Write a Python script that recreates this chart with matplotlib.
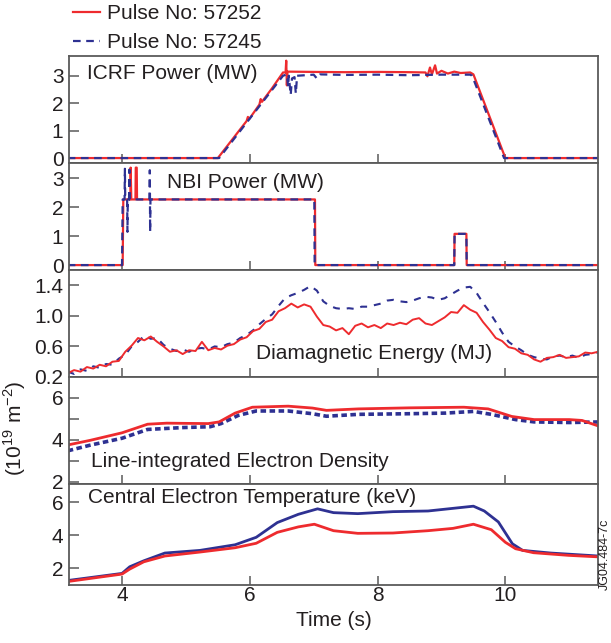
"""JET pulses 57252 / 57245: ICRF, NBI, W_dia, density and Te traces."""

import matplotlib
matplotlib.use("Agg")
import matplotlib.pyplot as plt
from matplotlib.ticker import FormatStrFormatter
import numpy as np

plt.rcParams["font.family"] = ["Liberation Sans", "DejaVu Sans"]
plt.rcParams["mathtext.fontset"] = "custom"
plt.rcParams["mathtext.rm"] = "Liberation Sans"
plt.rcParams["lines.scale_dashes"] = False

RED = "#ee2b2e"
BLUE = "#2e3192"
INK = "#231f20"
SPINE = "#5a5a5a"

# ICRF power (MW)
icrf_t_a = [3.15, 5.50, 5.80, 5.95, 5.97, 5.99, 6.15, 6.17, 6.19, 6.35, 6.52, 6.56, 6.57,
            6.58, 6.59, 7.00, 7.50, 8.00, 8.50, 8.75, 8.78, 8.82, 8.85, 8.90, 8.93, 9.00,
            9.10, 9.20, 9.30, 9.45, 9.50, 10.00, 11.50]
icrf_p_a = [0, 0, 0.90, 1.35, 1.50, 1.42, 1.95, 2.15, 2.05, 2.55, 3.12, 3.12, 3.55,
            2.65, 3.15, 3.14, 3.13, 3.14, 3.13, 3.12, 2.98, 3.30, 3.05, 3.38, 3.08, 3.18,
            3.08, 3.15, 3.10, 3.12, 3.05, 0, 0]
icrf_t_b = [3.15, 5.52, 6.52, 6.58, 6.60, 6.61, 6.64, 6.66, 6.70, 6.72, 6.74, 7.00, 7.05,
            7.10, 7.50, 8.00, 8.50, 9.00, 9.45, 9.48, 9.98, 11.50]
icrf_p_b = [0, 0, 3.00, 3.05, 2.60, 3.00, 2.30, 2.90, 2.95, 2.35, 3.00, 3.04, 2.90,
            3.05, 3.03, 3.04, 3.02, 3.04, 3.04, 3.00, 0, 0]

# NBI power (MW)
nbi_t_a = [3.15, 4.01, 4.02, 4.13, 4.135, 4.145, 4.21, 4.215, 4.23, 4.235, 7.02, 7.025,
           9.20, 9.205, 9.39, 9.395, 11.50]
nbi_p_a = [0, 0, 2.27, 2.27, 3.37, 2.27, 2.27, 3.37, 3.37, 2.27, 2.27, 0,
           0, 1.08, 1.08, 0, 0]
nbi_t_b = [3.15, 4.00, 4.01, 4.04, 4.045, 4.05, 4.08, 4.085, 4.09, 4.11, 4.115, 4.12,
           4.43, 4.435, 4.44, 4.445, 7.01, 7.015, 9.20, 9.205, 9.39, 9.395, 11.50]
nbi_p_b = [0, 0, 2.27, 2.27, 3.33, 2.27, 2.27, 1.15, 2.27, 2.27, 3.30, 2.27,
           2.27, 3.28, 1.15, 2.27, 2.27, 0, 0, 1.08, 1.08, 0, 0]

# Diamagnetic energy (MJ), sampled every 0.1 s from 3.15 s
wdia_start = 3.15
wdia_a = [0.25, 0.29, 0.27, 0.33, 0.31, 0.36, 0.34, 0.40, 0.41, 0.53,
          0.61, 0.71, 0.68, 0.73, 0.66, 0.60, 0.53, 0.55, 0.50, 0.55,
          0.54, 0.66, 0.55, 0.58, 0.56, 0.61, 0.63, 0.69, 0.72, 0.80,
          0.83, 0.92, 0.95, 1.06, 1.10, 1.16, 1.11, 1.15, 1.12, 0.99,
          0.88, 0.86, 0.81, 0.84, 0.76, 0.87, 0.90, 0.85, 0.88, 0.84,
          0.90, 0.88, 0.91, 0.89, 0.95, 0.97, 0.90, 0.88, 0.93, 0.98,
          1.05, 1.04, 1.14, 1.08, 1.04, 0.92, 0.82, 0.71, 0.67, 0.59,
          0.57, 0.51, 0.49, 0.43, 0.40, 0.45, 0.46, 0.49, 0.45, 0.46,
          0.47, 0.52, 0.51, 0.53]
wdia_b = [0.27, 0.24, 0.30, 0.28, 0.34, 0.32, 0.37, 0.36, 0.44, 0.49,
          0.60, 0.66, 0.74, 0.70, 0.71, 0.62, 0.57, 0.54, 0.56, 0.53,
          0.57, 0.58, 0.56, 0.60, 0.59, 0.63, 0.65, 0.71, 0.75, 0.81,
          0.89, 0.96, 1.02, 1.13, 1.23, 1.27, 1.30, 1.34, 1.39, 1.33,
          1.19, 1.13, 1.10, 1.09, 1.10, 1.09, 1.12, 1.12, 1.14, 1.16,
          1.20, 1.21, 1.19, 1.18, 1.20, 1.23, 1.25, 1.24, 1.21, 1.23,
          1.28, 1.33, 1.37, 1.38, 1.30, 1.17, 1.05, 0.92, 0.78, 0.66,
          0.60, 0.55, 0.49, 0.46, 0.44, 0.43, 0.47, 0.48, 0.46, 0.48,
          0.45, 0.49, 0.50, 0.52]

# Line-integrated density (1e19 m^-2)
ne_t_a = [3.15, 3.50, 4.00, 4.40, 4.70, 5.00, 5.35, 5.52, 5.77, 6.04, 6.60, 6.98, 7.20,
          7.70, 8.50, 9.35, 9.73, 10.10, 10.45, 11.00, 11.20, 11.50]
ne_a = [3.76, 3.98, 4.34, 4.75, 4.80, 4.79, 4.78, 4.86, 5.28, 5.56, 5.61, 5.52, 5.41,
        5.48, 5.53, 5.56, 5.48, 5.12, 4.97, 4.97, 4.93, 4.62]
ne_t_b = [3.15, 3.50, 4.00, 4.40, 4.95, 5.38, 5.55, 5.82, 6.10, 6.60, 6.98, 7.20, 7.70,
          8.50, 9.07, 9.50, 9.78, 10.16, 10.45, 11.00, 11.50]
ne_b = [3.48, 3.75, 4.08, 4.50, 4.59, 4.63, 4.78, 5.17, 5.38, 5.38, 5.25, 5.13, 5.22,
        5.25, 5.28, 5.36, 5.22, 4.97, 4.86, 4.83, 4.86]

# Central electron temperature (keV)
te_t_a = [3.15, 4.00, 4.12, 4.34, 4.67, 5.22, 5.77, 6.10, 6.43, 6.76, 7.01, 7.31, 7.69,
          8.24, 8.79, 9.18, 9.50, 9.78, 10.00, 10.16, 10.44, 10.99, 11.50]
te_a = [1.21, 1.66, 1.96, 2.40, 2.75, 2.99, 3.25, 3.52, 4.18, 4.51, 4.67, 4.28, 4.12,
        4.14, 4.28, 4.42, 4.67, 4.34, 3.58, 3.19, 2.95, 2.79, 2.69]
te_t_b = [3.15, 4.00, 4.12, 4.34, 4.67, 5.22, 5.77, 6.10, 6.43, 6.76, 7.06, 7.31, 7.69,
          8.24, 8.79, 9.50, 9.67, 9.89, 10.11, 10.27, 10.71, 11.50]
te_b = [1.27, 1.70, 2.10, 2.46, 2.93, 3.09, 3.43, 3.88, 4.77, 5.27, 5.60, 5.37, 5.31,
        5.43, 5.47, 5.76, 5.47, 4.81, 3.49, 3.09, 2.93, 2.74]

panel_titles = ["ICRF Power (MW)", "NBI Power (MW)", "Diamagnetic Energy (MJ)",
                "Line-integrated Electron Density", "Central Electron Temperature (keV)"]
pulse_labels = ["Pulse No: 57252", "Pulse No: 57245"]


def main() -> None:
    W, H = 611, 643
    fig = plt.figure(figsize=(W / 100, H / 100), dpi=100)

    left, right = 69, 598
    edges = [56, 163, 270, 377, 484, 585]
    axes = []
    for i in range(5):
        ax = fig.add_axes([left / W, 1 - edges[i + 1] / H,
                           (right - left) / W, (edges[i + 1] - edges[i]) / H])
        axes.append(ax)

    t_wdia = wdia_start + 0.1 * np.arange(len(wdia_a))

    ax1, ax2, ax3, ax4, ax5 = axes
    ax1.plot(icrf_t_a, icrf_p_a, color=RED, lw=1.6, label=pulse_labels[0])
    ax1.plot(icrf_t_b, icrf_p_b, color=BLUE, lw=1.6, dashes=(5.5, 4), label=pulse_labels[1])
    ax2.plot(nbi_t_a, nbi_p_a, color=RED, lw=1.6)
    ax2.plot(nbi_t_b, nbi_p_b, color=BLUE, lw=1.6, dashes=(5.5, 4))
    ax3.plot(t_wdia, wdia_b, color=BLUE, lw=1.5, dashes=(5, 5))
    ax3.plot(t_wdia, wdia_a, color=RED, lw=1.4)
    ax4.plot(ne_t_b, ne_b, color=BLUE, lw=2.6, dashes=(4, 2.5))
    ax4.plot(ne_t_a, ne_a, color=RED, lw=2.0)
    ax5.plot(te_t_b, te_b, color=BLUE, lw=2.0)
    ax5.plot(te_t_a, te_a, color=RED, lw=2.0)

    ylims = [(-0.18, 3.72), (-0.17, 3.53), (0.2, 1.6), (1.9, 7.0), (1.0, 7.1)]
    yticks = [[0, 1, 2, 3], [0, 1, 2, 3], [0.2, 0.6, 1.0, 1.4], [2, 4, 6], [2, 4, 6]]
    for ax, lim, ticks in zip(axes, ylims, yticks):
        ax.set_xlim(3.17, 11.45)
        ax.set_ylim(*lim)
        ax.set_yticks(ticks)
        ax.set_xticks([4, 6, 8, 10])
        ax.tick_params(axis="both", direction="in", length=7, width=1.1, color=SPINE,
                       labelsize=15, labelcolor=INK, pad=4)
        ax.tick_params(axis="x", length=6.5)
        for s in ax.spines.values():
            s.set_color(SPINE)
            s.set_linewidth(1.3)
        if ax is not ax5:
            ax.tick_params(axis="x", labelbottom=False)
    ax3.yaxis.set_major_formatter(FormatStrFormatter("%.1f"))
    ax4.set_yticks([3, 5], minor=True)
    ax4.tick_params(axis="y", which="minor", direction="in", length=7, width=1.1, color=SPINE)
    ax5.tick_params(axis="x", pad=1)
    ax5.set_xlabel("Time (s)", fontsize=15, color=INK, labelpad=4)

    title_pos = [(0.034, 0.836), (0.185, 0.822), (0.3535, 0.224), (0.0416, 0.206), (0.035, 0.868)]
    for ax, title, (x, y) in zip(axes, panel_titles, title_pos):
        ax.text(x, y, title, transform=ax.transAxes, fontsize=15, color=INK,
                ha="left", va="center")

    fig.text(15 / W, 1 - 428 / H, r"(10$^{19}$ m$^{-2}$)", rotation=90, fontsize=15,
             color=INK, ha="center", va="center")
    fig.text(605 / W, 1 - 554 / H, "JG04.484-7c", rotation=90, fontsize=9,
             color=INK, ha="center", va="center")

    handles, labels = ax1.get_legend_handles_labels()
    fig.legend(handles, labels, loc="upper left", bbox_to_anchor=(73 / W, 1 - 4 / H),
               frameon=False, fontsize=15, handlelength=1.3, handletextpad=0.35,
               labelspacing=0.5, borderpad=0, borderaxespad=0, labelcolor=INK)

    fig.savefig("out.png", dpi=100)
    plt.close(fig)


if __name__ == "__main__":
    main()
